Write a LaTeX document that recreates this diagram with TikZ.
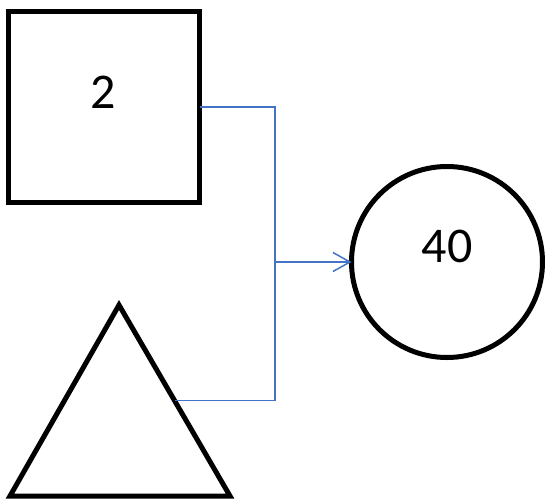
\documentclass[tikz,border=0pt]{standalone}
\usepackage{fontspec}
\setmainfont{Carlito}
\usetikzlibrary{arrows.meta,calc}
\definecolor{conn}{HTML}{4472C4}
\begin{document}
\begin{tikzpicture}[x=1pt,y=-1pt,
  shapebox/.style={draw=black,line width=5pt,inner sep=0pt,outer sep=0pt},
  lbl/.style={font=\fontsize{50}{60}\selectfont,inner sep=0pt},
  connline/.style={draw=conn,line width=1.5pt}]
\useasboundingbox (0,0) rectangle (547,499);
\node[shapebox,rectangle,minimum width=191pt,minimum height=191pt] (sq) at (104,107) {};
\node[lbl] (l2) at (103,92) {2};
\node[shapebox,circle,minimum size=191pt] (ci) at (447,262) {};
\node[lbl] (l40) at (447,246) {40};
\coordinate (t1) at (119,305);
\coordinate (t2) at (10,496);
\coordinate (t3) at (230,496);
\draw[line width=5pt] (t1) -- (t2) -- (t3) -- cycle;
\coordinate (tm) at ($(t1)!0.5!(t3)$);
\coordinate (j) at (275,262);
\draw[connline] (sq.east) -| (j);
\draw[connline] (tm) -| (j);
\draw[connline,-{Straight Barb[length=17pt,width=19pt]}] (j) -- (ci.west);
\end{tikzpicture}
\end{document}
